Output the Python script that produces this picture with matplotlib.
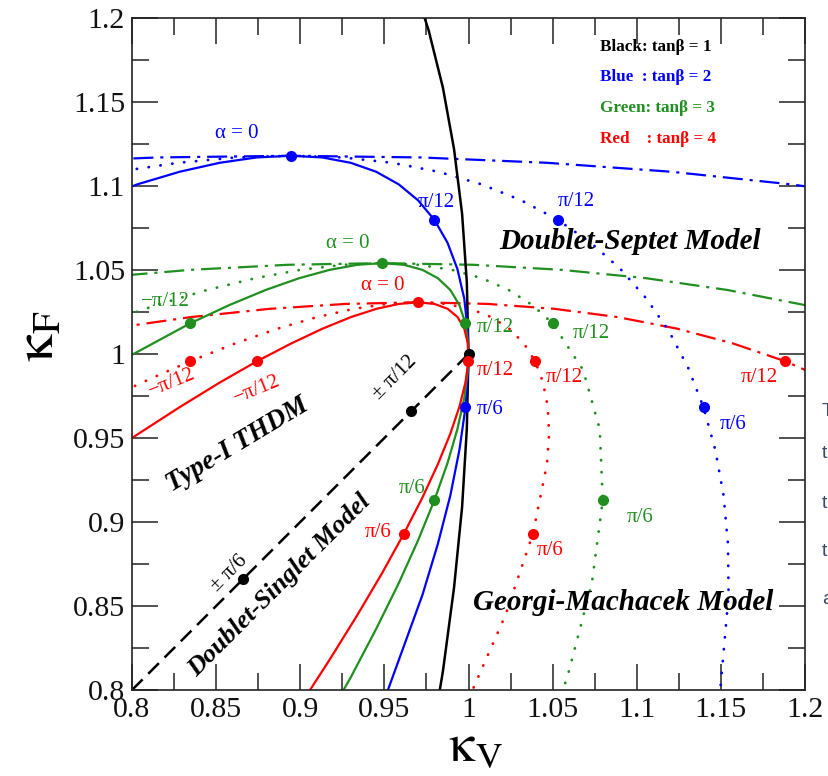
import matplotlib
matplotlib.use('Agg')
import matplotlib.pyplot as plt
from matplotlib.ticker import FixedLocator, MultipleLocator

plt.rcParams['font.family'] = ['Liberation Serif', 'DejaVu Serif']
plt.rcParams['mathtext.fontset'] = 'stix'

# ---------------- data ----------------
tick_values = [0.8, 0.85, 0.9, 0.95, 1.0, 1.05, 1.1, 1.15, 1.2]
tick_labels = ['0.8', '0.85', '0.9', '0.95', '1', '1.05', '1.1', '1.15', '1.2']

# tan(beta) = 2 (blue)
blue_t1_kv = [0.7482, 0.8032, 0.8284, 0.8520, 0.8741, 0.8944, 0.9131, 0.9300, 0.9451, 0.9585, 0.9700, 0.9797,
              0.9875, 0.9934, 0.9975, 0.9996, 0.9999, 0.9982, 0.9946, 0.9892, 0.9818, 0.9726, 0.9487]
blue_t1_kf = [1.0799, 1.1010, 1.1085, 1.1138, 1.1170, 1.1180, 1.1170, 1.1138, 1.1085, 1.1010, 1.0915, 1.0799,
              1.0663, 1.0506, 1.0329, 1.0133, 0.9917, 0.9682, 0.9429, 0.9158, 0.8870, 0.8565, 0.7906]
blue_gm_kv = [0.7540, 0.7915, 0.8274, 0.8617, 0.8944, 0.9254, 0.9547, 0.9821, 1.0077, 1.0313, 1.0530,
              1.0726, 1.0903, 1.1058, 1.1193, 1.1306, 1.1397, 1.1467, 1.1516, 1.1542, 1.1546, 1.1488]
blue_gm_kf = [1.1010, 1.1085, 1.1138, 1.1170, 1.1180, 1.1170, 1.1138, 1.1085, 1.1010, 1.0915, 1.0799,
              1.0663, 1.0506, 1.0329, 1.0133, 0.9917, 0.9682, 0.9429, 0.9158, 0.8870, 0.8565, 0.7906]
blue_ds_kv = [0.7351, 0.8155, 0.8944, 0.9716, 1.0469, 1.1203, 1.1915, 1.2604]
blue_ds_kf = [1.1138, 1.1170, 1.1180, 1.1170, 1.1138, 1.1085, 1.1010, 1.0915]

# tan(beta) = 3 (green)
green_t1_kv = [0.7833, 0.8345, 0.8578, 0.8794, 0.8993, 0.9175, 0.9340, 0.9487, 0.9616, 0.9726, 0.9818, 0.9892,
               0.9946, 0.9982, 0.9999, 0.9996, 0.9975, 0.9934, 0.9875, 0.9797, 0.9700, 0.9585, 0.9451, 0.9300, 0.8944]
green_t1_kf = [0.9905, 1.0182, 1.0291, 1.0381, 1.0451, 1.0501, 1.0531, 1.0541, 1.0531, 1.0501, 1.0451, 1.0381,
               1.0291, 1.0182, 1.0053, 0.9905, 0.9739, 0.9553, 0.9350, 0.9129, 0.8890, 0.8635, 0.8363, 0.8075, 0.7454]
green_gm_kv = [0.7827, 0.8144, 0.8446, 0.8732, 0.9001, 0.9253, 0.9487, 0.9703, 0.9901, 1.0080, 1.0239, 1.0380,
               1.0500, 1.0681, 1.0780, 1.0798, 1.0733, 1.0587, 1.0360]
green_gm_kf = [1.0182, 1.0291, 1.0381, 1.0451, 1.0501, 1.0531, 1.0541, 1.0531, 1.0501, 1.0451, 1.0381, 1.0291,
               1.0182, 0.9905, 0.9553, 0.9129, 0.8635, 0.8075, 0.7454]
green_ds_kv = [0.7755, 0.8348, 0.8926, 0.9487, 1.0030, 1.0553, 1.1057, 1.1539, 1.2000, 1.2437]
green_ds_kf = [1.0451, 1.0501, 1.0531, 1.0541, 1.0531, 1.0501, 1.0451, 1.0381, 1.0291, 1.0182]

# tan(beta) = 4 (red)
red_t1_kv = [0.7767, 0.8035, 0.8287, 0.8523, 0.8743, 0.8947, 0.9133, 0.9302, 0.9453, 0.9586, 0.9701, 0.9798, 0.9876,
             0.9935, 0.9975, 0.9996, 0.9999, 0.9982, 0.9946, 0.9891, 0.9817, 0.9725, 0.9614, 0.9485, 0.9338, 0.9173, 0.8991]
red_t1_kf = [0.9342, 0.9523, 0.9686, 0.9831, 0.9957, 1.0063, 1.0151, 1.0220, 1.0269, 1.0298, 1.0308, 1.0298, 1.0269,
             1.0220, 1.0151, 1.0063, 0.9957, 0.9831, 0.9686, 0.9523, 0.9342, 0.9143, 0.8927, 0.8693, 0.8444, 0.8178, 0.7896]
red_gm_kv = [0.7762, 0.8061, 0.8346, 0.8614, 0.8866, 0.9101, 0.9319, 0.9519, 0.9701, 0.9865, 1.0010, 1.0135,
             1.0242, 1.0329, 1.0396, 1.0443, 1.0471, 1.0479, 1.0466, 1.0382, 1.0219, 0.9978]
red_gm_kf = [0.9686, 0.9831, 0.9957, 1.0063, 1.0151, 1.0220, 1.0269, 1.0298, 1.0308, 1.0298, 1.0269, 1.0220,
             1.0151, 1.0063, 0.9957, 0.9831, 0.9686, 0.9523, 0.9342, 0.8927, 0.8444, 0.7896]
red_ds_kv = [0.7869, 0.8352, 0.8819, 0.9269, 0.9701, 1.0115, 1.0510, 1.0885, 1.1239, 1.1571, 1.1882, 1.2170]
red_ds_kf = [1.0151, 1.0220, 1.0269, 1.0298, 1.0308, 1.0298, 1.0269, 1.0220, 1.0151, 1.0063, 0.9957, 0.9831]

# tan(beta) = 1 (black)
black_t1_kv = [0.9659, 0.9763, 0.9848, 0.9914, 0.9962, 0.9990, 1.0000, 0.9990, 0.9962, 0.9914, 0.9848, 0.9763]
black_t1_kf = [1.2247, 1.1927, 1.1585, 1.1220, 1.0834, 1.0427, 1.0000, 0.9554, 0.9090, 0.8609, 0.8112, 0.7599]
singlet_kv = [0.8, 1.0]
singlet_kf = [0.8, 1.0]

# marked points
pt_black_kv = [1.0, 0.9659, 0.8660]
pt_black_kf = [1.0, 0.9659, 0.8660]
pt_blue_kv = [0.8944, 0.9797, 0.9982, 1.0530, 1.1397]
pt_blue_kf = [1.1180, 1.0799, 0.9682, 1.0799, 0.9682]
pt_green_kv = [0.9487, 0.8345, 0.9982, 0.9797, 1.0500, 1.0798]
pt_green_kf = [1.0541, 1.0182, 1.0182, 0.9129, 1.0182, 0.9129]
pt_red_kv = [0.9701, 0.8743, 0.9999, 0.9614, 0.8346, 1.0396, 1.0382, 1.1882]
pt_red_kf = [1.0308, 0.9957, 0.9957, 0.8927, 0.9957, 0.9957, 0.8927, 0.9957]

# ---------------- styling ----------------
BLUE = '#0000ff'
GREEN = '#1f8f1f'
RED = '#ff0000'
BLACK = '#000000'

SOLID = dict(lw=1.6, solid_capstyle='butt', solid_joinstyle='round')
DOTTED = dict(lw=2.0, linestyle=(0, (0.1, 4.2)), dash_capstyle='round')
DASHDOT = dict(lw=1.6, linestyle=(0, (9, 3.1, 1.4, 3.1)))

fig = plt.figure(figsize=(8.29, 7.76), dpi=100)
ax = fig.add_axes([132 / 829, 86 / 776, 673 / 829, 672 / 776])

# curves
for kv, kf, c in [(blue_ds_kv, blue_ds_kf, BLUE), (green_ds_kv, green_ds_kf, GREEN), (red_ds_kv, red_ds_kf, RED)]:
    ax.plot(kv, kf, color=c, **DASHDOT)
for kv, kf, c in [(blue_gm_kv, blue_gm_kf, BLUE), (green_gm_kv, green_gm_kf, GREEN), (red_gm_kv, red_gm_kf, RED)]:
    ax.plot(kv, kf, color=c, **DOTTED)
ax.plot(singlet_kv, singlet_kf, color=BLACK, lw=1.8, linestyle=(0, (6, 3.2)))
ax.plot(black_t1_kv, black_t1_kf, color=BLACK, lw=1.8, solid_joinstyle='round')
for kv, kf, c in [(blue_t1_kv, blue_t1_kf, BLUE), (green_t1_kv, green_t1_kf, GREEN), (red_t1_kv, red_t1_kf, RED)]:
    ax.plot(kv, kf, color=c, **SOLID)

# markers
for kv, kf, c in [(pt_black_kv, pt_black_kf, BLACK), (pt_blue_kv, pt_blue_kf, BLUE),
                  (pt_green_kv, pt_green_kf, GREEN), (pt_red_kv, pt_red_kf, RED)]:
    ax.plot(kv, kf, 'o', color=c, ms=7, mec=c, zorder=5)

ax.set_xlim(0.8, 1.2)
ax.set_ylim(0.8, 1.2)

# ticks (ROOT style, all four sides, inward)
for axis in (ax.xaxis, ax.yaxis):
    axis.set_major_locator(FixedLocator(tick_values))
    axis.set_minor_locator(MultipleLocator(0.025))
ax.set_xticklabels(tick_labels)
ax.set_yticklabels(tick_labels)
ax.tick_params(which='both', direction='in', top=True, right=True, width=1.1, colors='#222222')
ax.tick_params(which='major', length=18.7, labelsize=21.5, pad=5, labelcolor='#111111')
ax.tick_params(which='minor', length=12.2)
for s in ax.spines.values():
    s.set_linewidth(1.2)
    s.set_color('#222222')

# axis titles
fig.text(40 / 829, 1 - 336 / 776, r'$\mathrm{\kappa_{F}}$', fontsize=40, rotation=90,
         ha='center', va='center')
fig.text(475 / 829, 1 - 748 / 776, r'$\mathrm{\kappa_{V}}$', fontsize=38,
         ha='center', va='center')

# legend text
leg_font = dict(fontsize=12.3, fontweight='bold', ha='left', va='center')
ax.text(1.078, 1.1827, 'Black: tanβ = 1', color=BLACK, **leg_font)
ax.text(1.078, 1.1649, 'Blue  : tanβ = 2', color=BLUE, **leg_font)
ax.text(1.078, 1.1464, 'Green: tanβ = 3', color=GREEN, **leg_font)
ax.text(1.078, 1.1280, 'Red    : tanβ = 4', color=RED, **leg_font)

# annotations
lab = dict(fontsize=15, ha='center', va='center')
ax.text(0.862, 1.131, 'α = 0', color=BLUE, **lab)
ax.text(0.981, 1.090, 'π/12', color=BLUE, **lab)
ax.text(1.064, 1.091, 'π/12', color=BLUE, **lab)
ax.text(1.013, 0.9667, 'π/6', color=BLUE, **lab)
ax.text(1.157, 0.958, 'π/6', color=BLUE, **lab)

ax.text(0.928, 1.066, 'α = 0', color=GREEN, **lab)
ax.text(0.820, 1.031, '−π/12', color=GREEN, **lab)
ax.text(1.016, 1.016, 'π/12', color=GREEN, **lab)
ax.text(1.073, 1.012, 'π/12', color=GREEN, **lab)
ax.text(0.9667, 0.920, 'π/6', color=GREEN, **lab)
ax.text(1.102, 0.9024, 'π/6', color=GREEN, **lab)

ax.text(0.949, 1.041, 'α = 0', color=RED, **lab)
ax.text(0.824, 0.983, '−π/12', color=RED, rotation=22, **lab)
ax.text(0.874, 0.979, '−π/12', color=RED, rotation=22, **lab)
ax.text(1.016, 0.990, 'π/12', color=RED, **lab)
ax.text(1.057, 0.986, 'π/12', color=RED, **lab)
ax.text(1.173, 0.986, 'π/12', color=RED, **lab)
ax.text(0.9464, 0.8935, 'π/6', color=RED, **lab)
ax.text(1.0484, 0.8833, 'π/6', color=RED, **lab)

ax.text(0.956, 0.986, '± π/12', color=BLACK, rotation=45, **lab)
ax.text(0.858, 0.8696, '± π/6', color=BLACK, rotation=45, **lab)

model = dict(fontweight='bold', style='italic', ha='center', va='center', color=BLACK)
ax.text(1.096, 1.067, 'Doublet-Septet Model', fontsize=21, **model)
ax.text(1.092, 0.8518, 'Georgi-Machacek Model', fontsize=21, **model)
ax.text(0.8625, 0.946, 'Type-I THDM', rotation=31, fontsize=19.5, **model)
ax.text(0.888, 0.8625, 'Doublet-Singlet Model', rotation=45, fontsize=19, **model)

# clipped page text at the right edge
for yy, ch in [(412, 'T'), (453, 't'), (503, 't'), (551, 't'), (600, 'a')]:
    fig.text(822 / 829, 1 - yy / 776, ch, fontsize=14, color='#3b4a6b',
             family='Liberation Sans', ha='left', va='center')

fig.savefig('out.png', dpi=100)
